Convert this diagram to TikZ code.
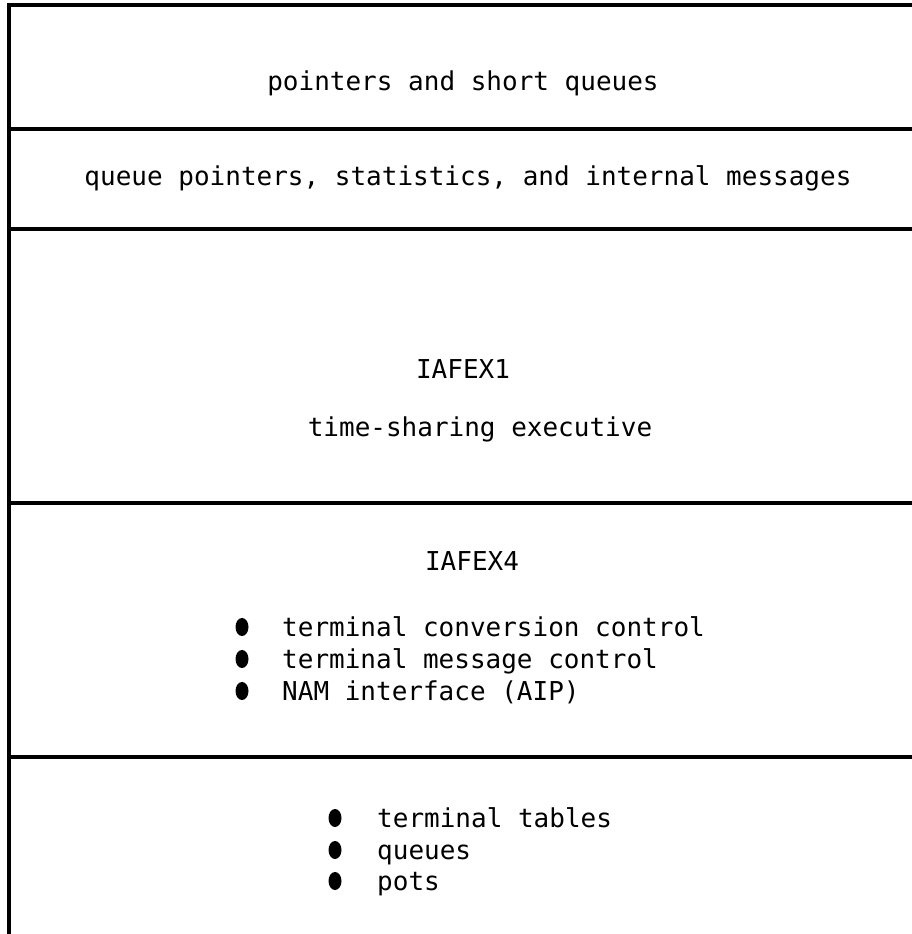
\documentclass[tikz,border=0pt]{standalone}
\usepackage{fontspec}
\newfontfamily\mono{DejaVu Sans Mono}
\begin{document}
\begin{tikzpicture}[x=1pt,y=-1pt,
  rule/.style={line width=3.6pt},
  lbl/.style={inner sep=0pt,font=\mono\fontsize{26}{32}\selectfont}]
\useasboundingbox (0,0) rectangle (912,934);
\fill[white] (0,0) rectangle (912,934);
% frame
\coordinate (tl) at (9,5);
\coordinate (tr) at (912,5);
\coordinate (bl) at (9,934);
\draw[rule] (tr) -- (tl) -- (bl);
\foreach \y/\n in {129/a,229/b,503/c,757/d}{
  \coordinate (l\n) at (9,\y);
  \coordinate (r\n) at (912,\y);
  \draw[rule] (l\n) -- (r\n);
}
% texts
\node[lbl,anchor=base] (t1) at (463,90) {pointers and short queues};
\node[lbl,anchor=base] (t2) at (468,185) {queue pointers, statistics, and internal messages};
\node[lbl,anchor=base] (ex1) at (463,378) {IAFEX1};
\node[lbl,anchor=base] (ts) at (480,436) {time-sharing executive};
\node[lbl,anchor=base] (ex4) at (472,570) {IAFEX4};
\node[lbl,anchor=base west] (b1) at (282,636) {terminal conversion control};
\node[lbl,anchor=base west] (b2) at (282,668) {terminal message control};
\node[lbl,anchor=base west] (b3) at (282,700) {NAM interface (AIP)};
\node[lbl,anchor=base west] (c1) at (377,827) {terminal tables};
\node[lbl,anchor=base west] (c2) at (377,859) {queues};
\node[lbl,anchor=base west] (c3) at (377,890) {pots};
% bullets
\foreach \yy in {636,668,700}{\fill (242,\yy-9) ellipse (6.5 and 9);}
\foreach \yy in {827,859,890}{\fill (335,\yy-9) ellipse (6.5 and 9);}
\end{tikzpicture}
\end{document}
